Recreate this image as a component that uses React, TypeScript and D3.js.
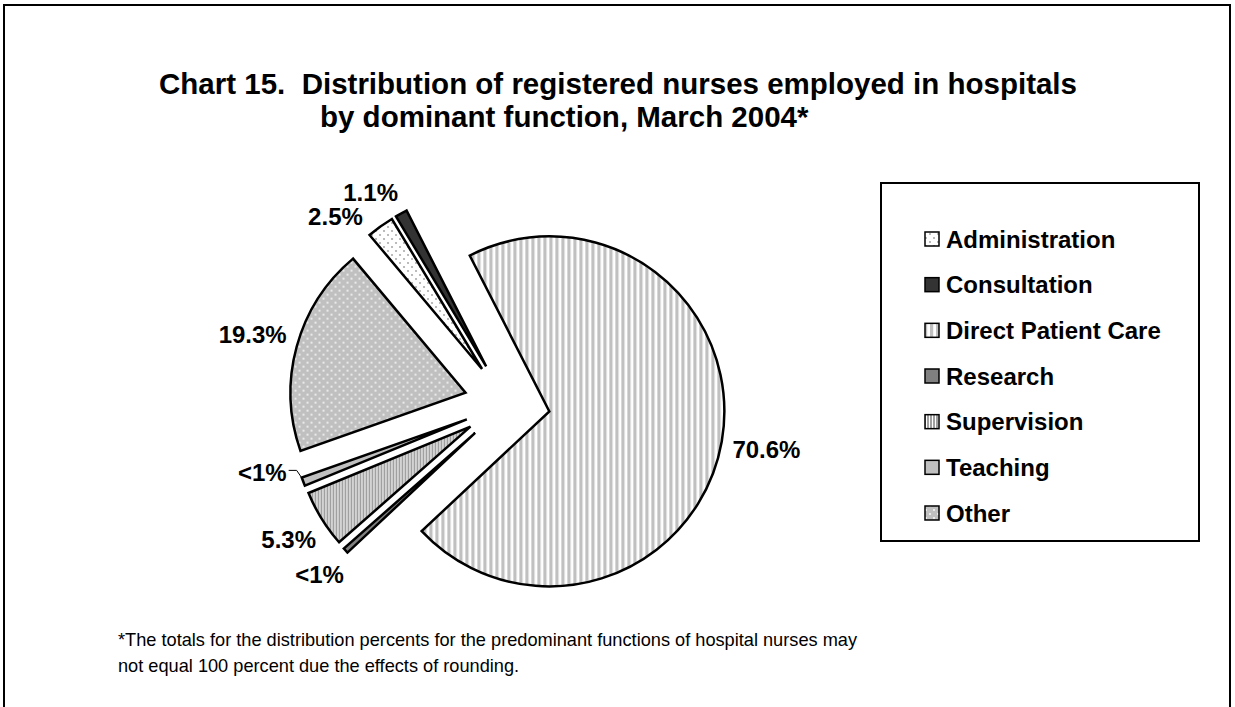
import * as d3 from "d3";

const categories = [
  "Administration",
  "Consultation",
  "Direct Patient Care",
  "Research",
  "Supervision",
  "Teaching",
  "Other",
];
const shares = [2.5, 1.1, 70.6, 0.5, 5.3, 0.8, 19.3];
const valueLabels = ["2.5%", "1.1%", "70.6%", "<1%", "5.3%", "<1%", "19.3%"];

const titleLines = [
  "Chart 15.  Distribution of registered nurses employed in hospitals",
  "by dominant function, March 2004*",
];
const footnoteLines = [
  "*The totals for the distribution percents for the predominant functions of hospital nurses may",
  "not equal 100 percent due the effects of rounding.",
];

const fillFor: Record<string, string> = {
  Administration: "url(#pAdmin)",
  Consultation: "#333333",
  "Direct Patient Care": "url(#pDpc)",
  Research: "#808080",
  Supervision: "url(#pSup)",
  Teaching: "#c0c0c0",
  Other: "url(#pOther)",
};

const W = 1235;
const H = 707;
const FONT = "'Liberation Sans', Arial, sans-serif";

// rough bold Arial advance widths (em) for label sizing
const charEm: Record<string, number> = { ".": 0.278, "%": 0.889, "<": 0.584 };
const textWidth = (s: string, size: number) =>
  s.split("").reduce((acc, ch) => acc + (charEm[ch] ?? 0.556), 0) * size;

export default function App() {
  const cx = 507;
  const cy = 404;
  const r = 175;
  const explode = 43;
  const deg = Math.PI / 180;

  const pie = d3
    .pie<number>()
    .sort(null)
    .value((d) => d)
    .startAngle(320 * deg)
    .endAngle(320 * deg + 2 * Math.PI);
  const arcs = pie(shares);
  const arc = d3.arc<d3.PieArcDatum<number>>().innerRadius(0).outerRadius(r);

  const labelSize = 24;
  const gap = 10;
  // crowded small slices: labels turned off their bisector (Teaching gets a leader line)
  const labelTurn: Record<string, number> = {
    Administration: -8.3 * deg,
    Consultation: -4.5 * deg,
    Teaching: 6.3 * deg,
  };

  const legendX = 881;
  const legendY = 183;
  const legendRow = d3
    .scalePoint<string>()
    .domain(categories)
    .range([239, 513]);

  return (
    <svg
      width={W}
      height={H}
      style={{ position: "absolute", left: 0, top: 0, background: "#fff" }}
      fontFamily={FONT}
    >
      <defs>
        <pattern id="pAdmin" width={8} height={8} patternUnits="userSpaceOnUse">
          <rect width={8} height={8} fill="#fff" />
          <circle cx={2} cy={2} r={0.9} fill="#9a9a9a" />
          <circle cx={6} cy={6} r={0.9} fill="#9a9a9a" />
        </pattern>
        <pattern id="pDpc" width={6} height={6} patternUnits="userSpaceOnUse">
          <rect width={6} height={6} fill="#fff" />
          <rect width={3.2} height={6} fill="#c0c0c0" />
        </pattern>
        <pattern id="pSup" width={3} height={3} patternUnits="userSpaceOnUse">
          <rect width={3} height={3} fill="#fff" />
          <rect width={2} height={3} fill="#a0a0a0" />
        </pattern>
        <pattern id="pOther" width={8} height={8} patternUnits="userSpaceOnUse">
          <rect width={8} height={8} fill="#c0c0c0" />
          <circle cx={2} cy={2} r={0.9} fill="#fff" />
          <circle cx={6} cy={6} r={0.9} fill="#fff" />
        </pattern>
      </defs>

      {/* outer frame */}
      <rect x={4} y={5} width={1226} height={740} fill="#fff" stroke="#000" strokeWidth={2} />

      {/* title */}
      <text
        x={618}
        y={94}
        textAnchor="middle"
        fontSize={29.5}
        fontWeight="bold"
        style={{ whiteSpace: "pre" }}
      >
        {titleLines[0]}
      </text>
      <text x={320} y={127} textAnchor="start" fontSize={29.5} fontWeight="bold">
        {titleLines[1]}
      </text>

      {/* pie slices */}
      {arcs.map((a, i) => {
        const mid = (a.startAngle + a.endAngle) / 2;
        const ox = cx + explode * Math.sin(mid);
        const oy = cy - explode * Math.cos(mid);
        return (
          <path
            key={categories[i]}
            d={arc(a) ?? ""}
            transform={`translate(${ox},${oy})`}
            fill={fillFor[categories[i]]}
            stroke="#000"
            strokeWidth={2.5}
            strokeLinejoin="miter"
          />
        );
      })}

      {/* value labels */}
      {arcs.map((a, i) => {
        const mid = (a.startAngle + a.endAngle) / 2;
        const ox = cx + explode * Math.sin(mid);
        const oy = cy - explode * Math.cos(mid);
        const cat = categories[i];
        const t = mid + (labelTurn[cat] ?? 0);
        const w = textWidth(valueLabels[i], labelSize);
        const h = labelSize * 0.9;
        const d = r + gap + (w / 2) * Math.abs(Math.sin(t)) + (h / 2) * Math.abs(Math.cos(t));
        const lx = ox + d * Math.sin(t);
        const ly = oy - d * Math.cos(t);
        const lead = cat === "Teaching";
        const ex = ox + r * Math.sin(mid);
        const ey = oy - r * Math.cos(mid);
        return (
          <g key={"l" + i}>
            {lead && (
              <polyline
                points={`${lx + w / 2 + 2},${ly - 2} ${lx + w / 2 + 10},${ly - 2} ${ex - 1},${ey - 3}`}
                fill="none"
                stroke="#000"
                strokeWidth={1}
              />
            )}
            <text
              x={lx}
              y={ly}
              textAnchor="middle"
              dominantBaseline="central"
              fontSize={labelSize}
              fontWeight="bold"
            >
              {valueLabels[i]}
            </text>
          </g>
        );
      })}

      {/* legend */}
      <rect
        x={legendX}
        y={legendY}
        width={318}
        height={358}
        fill="#fff"
        stroke="#000"
        strokeWidth={2}
      />
      {categories.map((c) => {
        const y = legendRow(c) ?? 0;
        return (
          <g key={"lg" + c}>
            <rect
              x={925}
              y={y - 7}
              width={14}
              height={14}
              fill={fillFor[c]}
              stroke="#000"
              strokeWidth={1.5}
            />
            <text
              x={946}
              y={y}
              dominantBaseline="central"
              fontSize={24}
              fontWeight="bold"
            >
              {c}
            </text>
          </g>
        );
      })}

      {/* footnote */}
      {footnoteLines.map((line, i) => (
        <text key={"f" + i} x={118} y={646 + i * 26} fontSize={18.2}>
          {line}
        </text>
      ))}
    </svg>
  );
}
